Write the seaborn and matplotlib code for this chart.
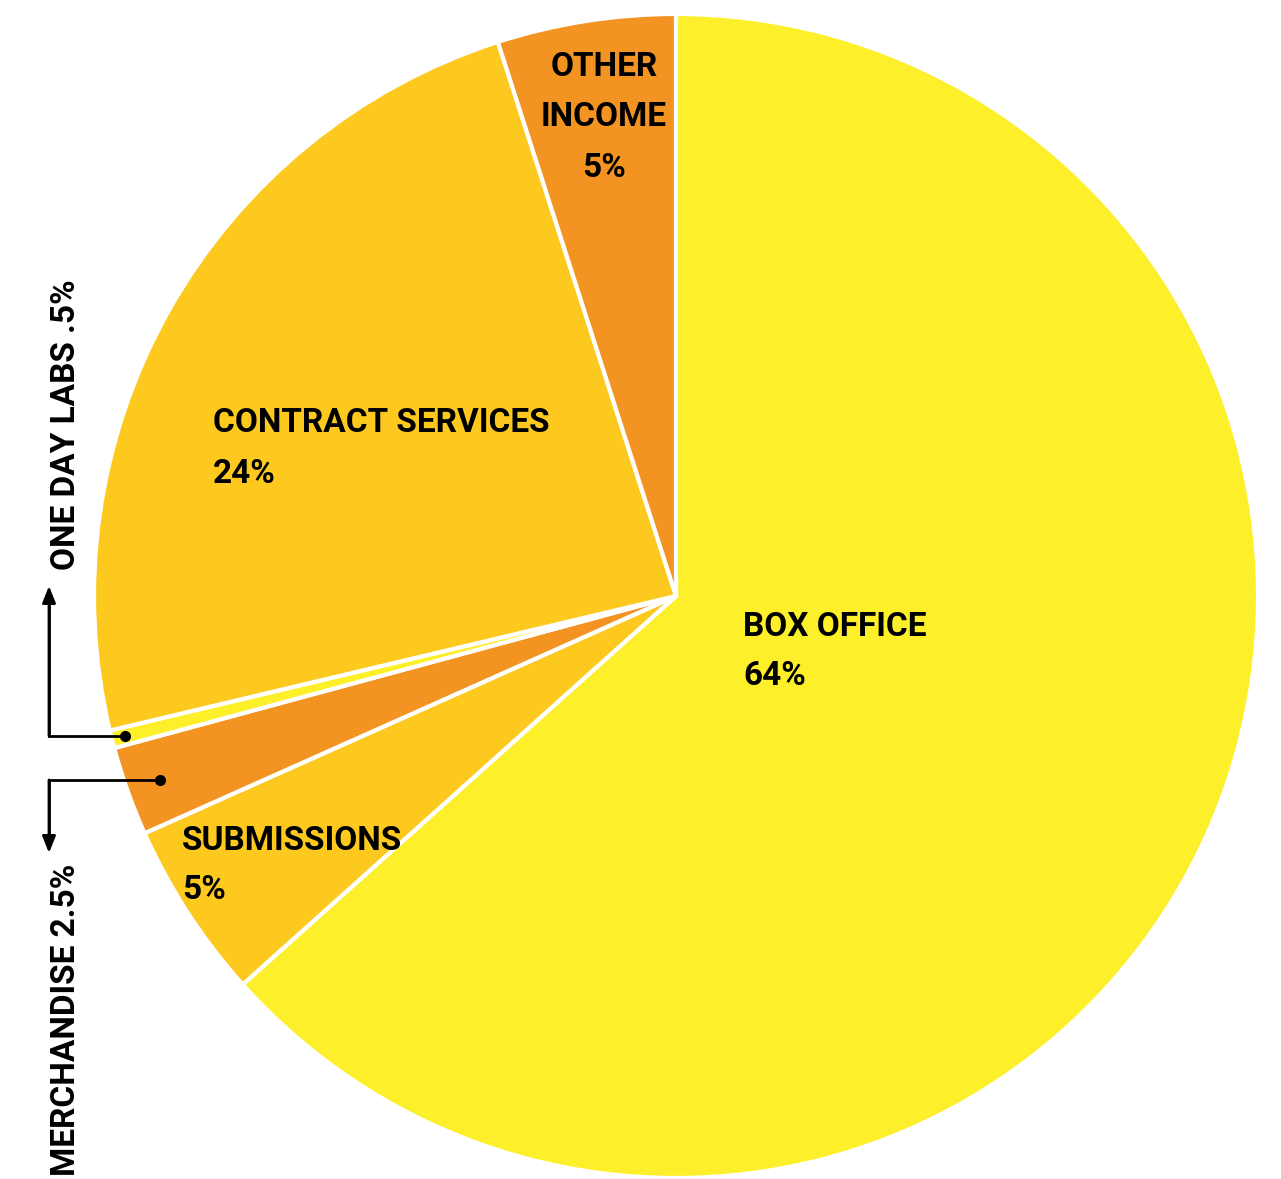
import numpy as np
import pandas as pd
import matplotlib
matplotlib.use("Agg")
import matplotlib.pyplot as plt
import seaborn as sns

sns.set_style("white")
plt.rcParams['font.family'] = ['Roboto', 'DejaVu Sans']

# data, clockwise from 12 o'clock
categories = ['BOX OFFICE', 'SUBMISSIONS', 'MERCHANDISE', 'ONE DAY LABS',
              'CONTRACT SERVICES', 'OTHER INCOME']
shares = [64, 5, 2.5, 0.5, 24, 5]
share_labels = ['64%', '5%', '2.5%', '.5%', '24%', '5%']

yellow, gold, orange = '#FEEF2B', '#FDC91E', '#F39321'
colors = [yellow, gold, orange, yellow, gold, orange]

W, H = 1281, 1179
cx, cy, R = 676, 596, 582


def px(x, y):
    # pixel position in the picture -> data coords (pie radius = 1)
    return (x - cx) / R, (cy - y) / R


fig = plt.figure(figsize=(W / 100, H / 100), dpi=100)
ax = fig.add_axes([0, 0, 1, 1])
wedges, _ = ax.pie(shares, colors=colors, startangle=90, counterclock=False,
                   radius=1, wedgeprops=dict(edgecolor='white', linewidth=3))
ax.set_aspect('auto')
x0, y1 = px(0, 0)
x1, y0 = px(W, H)
ax.set_xlim(x0, x1)
ax.set_ylim(y0, y1)
ax.axis('off')

fs = 24
kw = dict(fontsize=fs, fontweight='bold', color='black')

def lines(x, ys, texts, ha='left'):
    for y, t in zip(ys, texts):
        ax.text(*px(x, y), t, ha=ha, va='baseline', **kw)

lines(743, [636, 685], [categories[0], share_labels[0]])
lines(182, [850, 899], [categories[1], share_labels[1]])
lines(213, [432, 483], [categories[4], share_labels[4]])
lines(604, [76, 126, 177], ['OTHER', 'INCOME', share_labels[5]], ha='center')

# rotated callout labels for the two thin slices
ax.text(*px(75, 570), f'{categories[3]} {share_labels[3]}', rotation=90,
        rotation_mode='anchor', ha='left', va='baseline', **kw)
ax.text(*px(75, 864), f'{categories[2]} {share_labels[2]}', rotation=90,
        rotation_mode='anchor', ha='right', va='baseline', **kw)

# leader lines: dot inside wedge -> elbow -> arrow to the label
xl = px(49, 0)[0]
for i, r, tip in [(3, 0.976, 586), (2, 0.942, 853)]:
    w = wedges[i]
    mid = np.deg2rad((w.theta1 + w.theta2) / 2)
    dx, dy = r * np.cos(mid), r * np.sin(mid)
    ty = px(0, tip)[1]
    ax.plot([dx, xl, xl], [dy, dy, dy + (ty - dy) * 0.9], color='black', lw=2,
            solid_joinstyle='miter')
    ax.plot(dx, dy, 'o', color='black', ms=7)
    ax.annotate('', xy=(xl, ty), xytext=(xl, dy),
                arrowprops=dict(arrowstyle='-|>,head_length=1.0,head_width=0.4',
                                color='black', lw=2, shrinkA=0, shrinkB=0))

fig.savefig('out.png', dpi=100, facecolor='white')
